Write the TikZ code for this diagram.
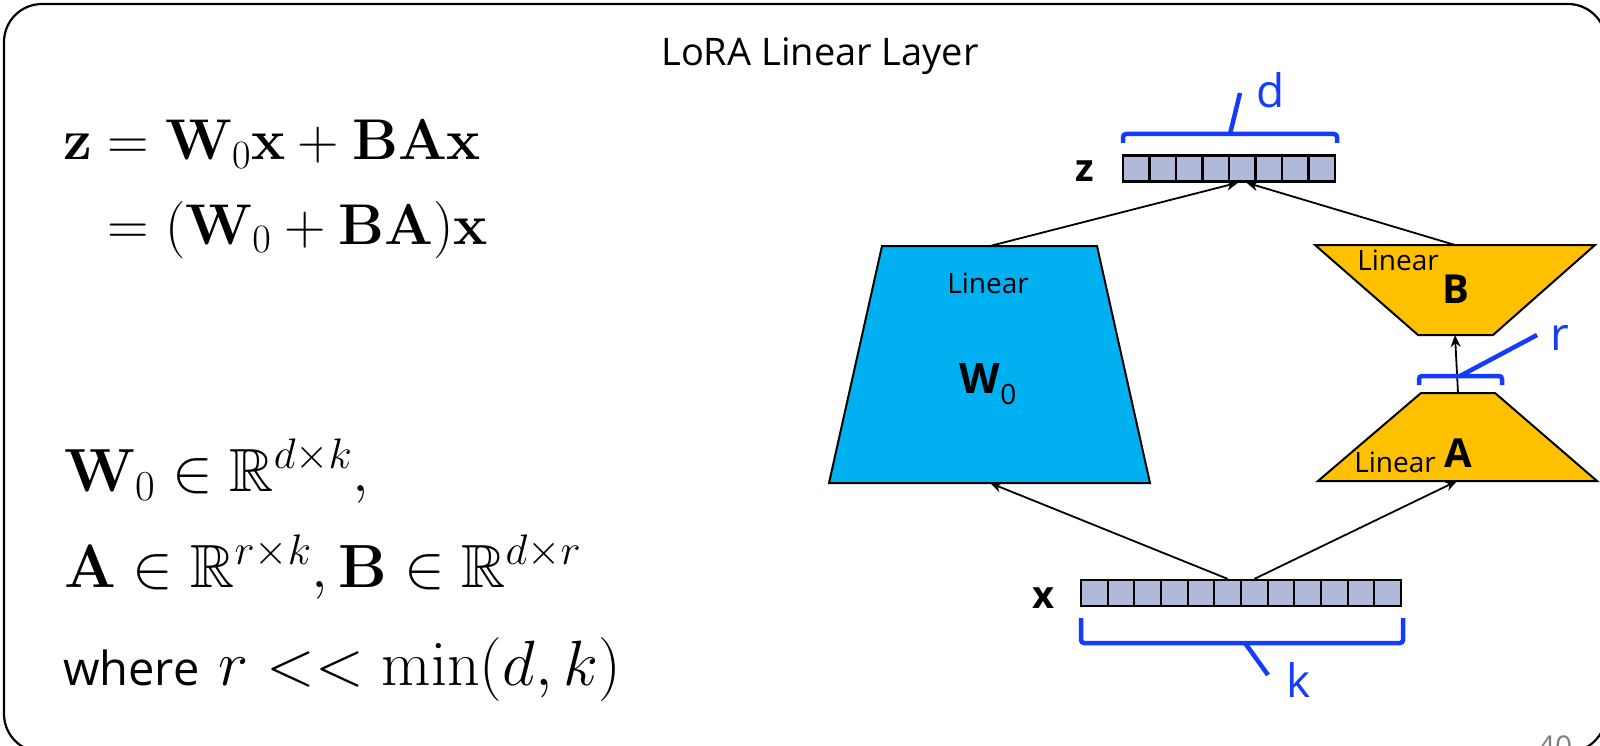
\RequirePackage{fix-cm}
\documentclass[tikz,border=0pt]{standalone}
\usepackage{amsmath,amssymb}
\usepackage[no-math]{fontspec}
\newfontfamily\osans{Open Sans}
\usetikzlibrary{arrows.meta}
\definecolor{wblue}{RGB}{0,176,240}
\definecolor{lgold}{RGB}{255,192,0}
\definecolor{cellc}{RGB}{176,185,216}
\definecolor{brc}{RGB}{20,60,255}
\definecolor{pgnum}{RGB}{128,128,128}
\tikzset{
  cellbox/.style={draw, fill=cellc, line width=2.2pt, minimum height=26pt, inner sep=0pt},
  trap/.style={draw, line width=2pt, line join=miter},
  conn/.style={line width=1.8pt, -{Stealth[length=12pt,width=10pt]}},
  bracepath/.style={draw=brc, line width=4.5pt, rounded corners=3pt},
  bracelab/.style={text=brc, font=\osans\fontsize{46}{50}\selectfont, anchor=base, inner sep=0pt},
  eqs/.style={anchor=base west, inner sep=0pt, font=\fontsize{57.5}{64}\selectfont},
  eqb/.style={anchor=base west, inner sep=0pt, font=\fontsize{61}{68}\selectfont},
  vlab/.style={anchor=base, inner sep=0pt, font=\osans\bfseries\fontsize{38}{44}\selectfont},
  linlab/.style={anchor=base, inner sep=0pt, font=\osans\fontsize{28}{32}\selectfont},
}
\begin{document}
\begin{tikzpicture}[x=1pt,y=-1pt]
\useasboundingbox (0,0) rectangle (1600,746);
\clip (0,0) rectangle (1600,746);
\draw[line width=2.2pt, rounded corners=38pt] (4,4) rectangle (1606,752);

% title
\node[anchor=base, inner sep=0pt, font=\osans\fontsize{38}{44}\selectfont] (title) at (820,66) {LoRA Linear Layer};

% left equations
\node[eqs] (eq1) at (63,160) {$\mathbf{z} = \mathbf{W}_0\mathbf{x} + \mathbf{BA}\mathbf{x}$};
\node[eqs] (eq2) at (63,244) {$\phantom{\mathbf{z}} = (\mathbf{W}_0 + \mathbf{BA})\mathbf{x}$};
\node[eqb] (eq3) at (64,491) {$\mathbf{W}_0 \in \mathbb{R}^{d\times k},$};
\node[eqb] (eq4) at (64,587) {$\mathbf{A} \in \mathbb{R}^{r\times k}, \mathbf{B} \in \mathbb{R}^{d\times r}$};
\node[eqb, font=\fontsize{64}{70}\selectfont] (eq5) at (63,685) {{\osans\fontsize{47}{52}\selectfont where} $r << \min(d,k)$};

% vectors
\foreach \i in {1,...,8}
  \node[cellbox, minimum width=26.5pt] (z\i) at ({1123+(\i-0.5)*26.5},168.5) {};
\foreach \i in {1,...,12}
  \node[cellbox, minimum width=26.67pt] (x\i) at ({1081+(\i-0.5)*26.67},593) {};
\node[vlab] (zlab) at (1085,182) {z};
\node[vlab] (xlab) at (1043,608) {x};

% trapezoids
\draw[trap, fill=wblue] (882,246) -- (1097,246) -- (1150,483) -- (829,483) -- cycle;
\coordinate (wtop) at (990,246);
\coordinate (wbot) at (990,483);
\draw[trap, fill=lgold] (1315,245) -- (1595,245) -- (1493,335) -- (1418,335) -- cycle;
\coordinate (btop) at (1455,245);
\coordinate (bbot) at (1455,335);
\draw[trap, fill=lgold] (1421,393) -- (1495,393) -- (1597,481) -- (1318,481) -- cycle;
\coordinate (atop) at (1458,393);
\coordinate (abot) at (1457,481);

\node[linlab] (wlin) at (988,293) {Linear};
\node[anchor=base, inner sep=0pt, font=\osans\bfseries\fontsize{42}{50}\selectfont] (wlab) at (988,393) {W\raisebox{-0.28em}{\mdseries\fontsize{28}{30}\selectfont 0}};
\node[linlab] (blin) at (1398,270) {Linear};
\node[anchor=base, inner sep=0pt, font=\osans\bfseries\fontsize{40}{44}\selectfont] (blab) at (1456,303) {B};
\node[linlab] (alin) at (1395,472) {Linear};
\node[anchor=base, inner sep=0pt, font=\osans\bfseries\fontsize{40}{44}\selectfont] (alab) at (1458,467) {A};

% connectors
\draw[conn] (wtop) -- ([xshift=-4pt]z5.south);
\draw[conn] (btop) -- ([xshift=4pt]z5.south);
\draw[conn] (x6.north) -- (wbot);
\draw[conn] (x7.north) -- (abot);
\draw[conn] (atop) -- (bbot);

% braces
\draw[bracepath] (1123,143) -- (1123,134) -- (1337,134) -- (1337,143);
\draw[draw=brc, line width=4.5pt] (1230,134) -- (1240,93);
\node[bracelab] (dlab) at (1271,108) {d};
\draw[bracepath] (1081,618) -- (1081,643) -- (1403,643) -- (1403,618);
\draw[draw=brc, line width=4.5pt] (1245,643) -- (1268,675);
\node[bracelab] (klab) at (1299,697) {k};
\draw[bracepath] (1419,385) -- (1419,376) -- (1502,376) -- (1502,385);
\draw[draw=brc, line width=4.5pt] (1460,376) -- (1537,335);
\node[bracelab] (rlab) at (1560,350) {r};

% page number
\node[anchor=base, inner sep=0pt, font=\osans\fontsize{30}{36}\selectfont, text=pgnum] (pg) at (1555,757) {40};
\end{tikzpicture}
\end{document}
